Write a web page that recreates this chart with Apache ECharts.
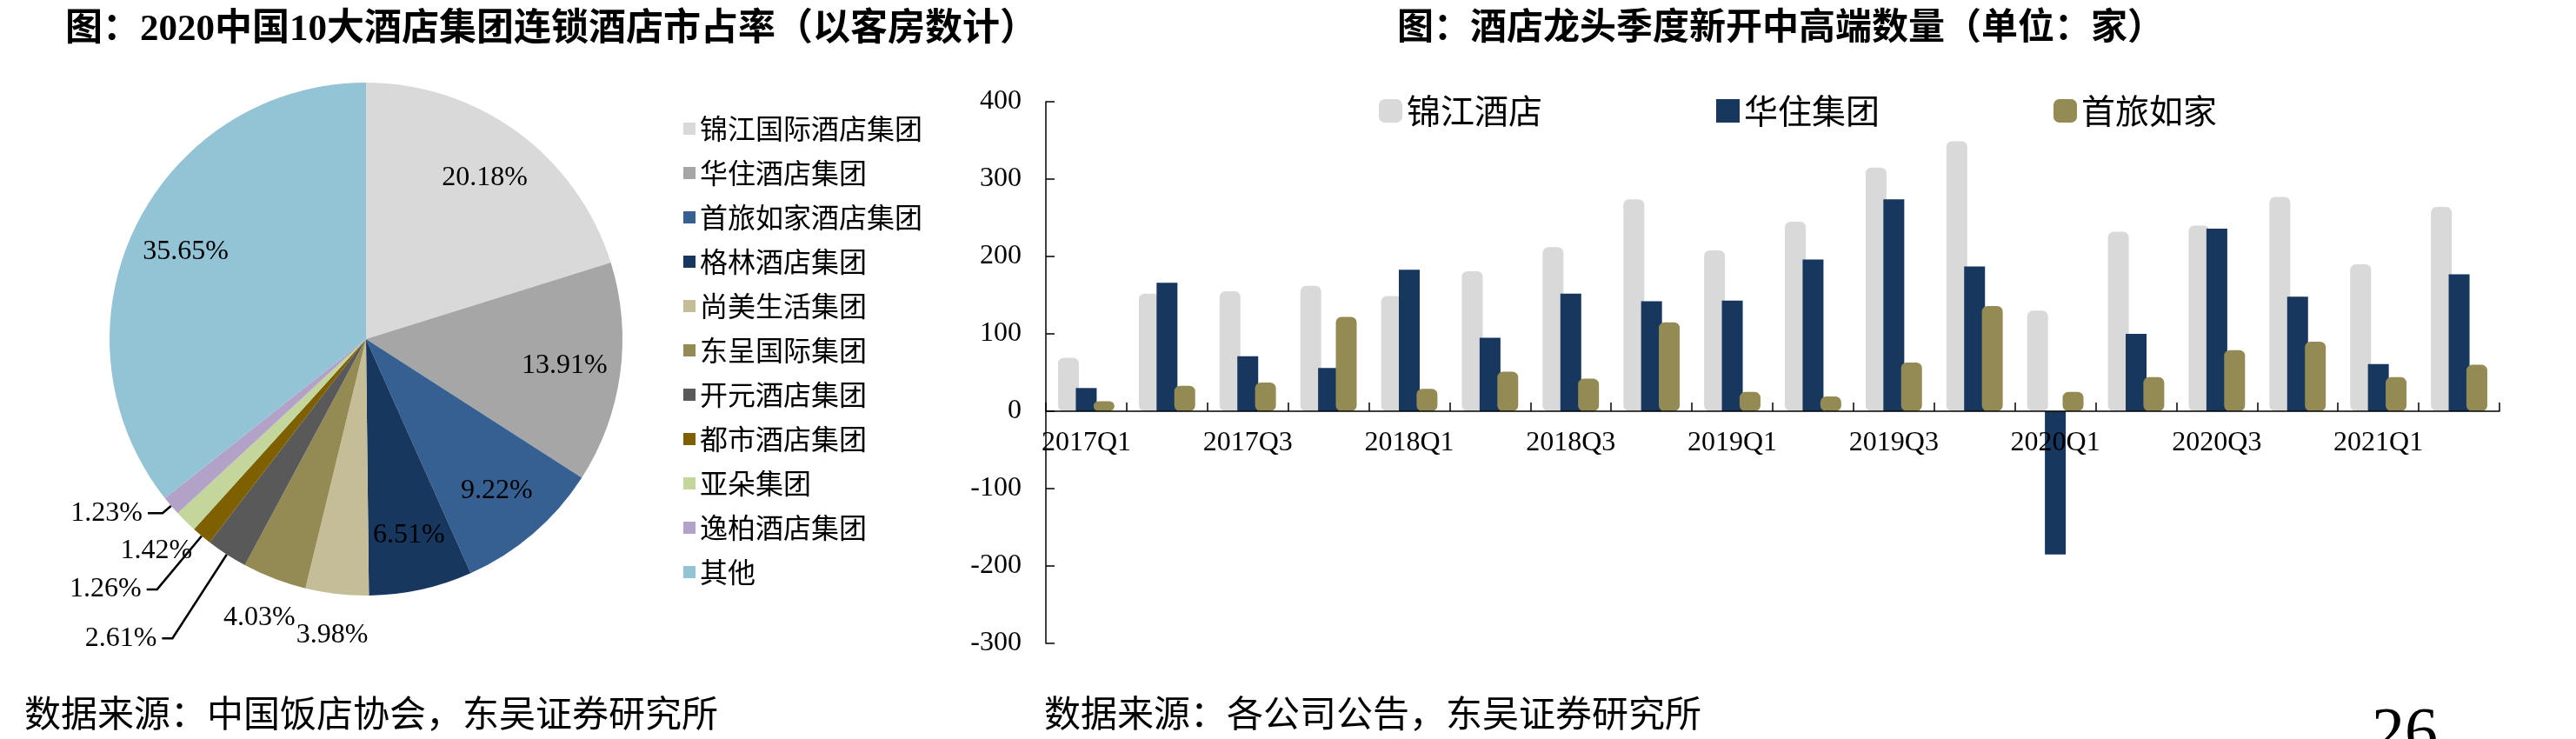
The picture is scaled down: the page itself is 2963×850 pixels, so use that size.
<!DOCTYPE html>
<html>
<head>
<meta charset="utf-8">
<title>酒店集团市占率与新开中高端数量</title>
<script src="https://cdn.jsdelivr.net/npm/echarts@6/dist/echarts.min.js"></script>
<style>
  html, body { margin: 0; padding: 0; background: #fff; }
  #chart { width: 2963px; height: 850px; }
</style>
</head>
<body>
<div id="chart"></div>
<script>
// 饼图：2020中国10大酒店集团连锁酒店市占率（%）
const groupNames = ['锦江国际酒店集团', '华住酒店集团', '首旅如家酒店集团', '格林酒店集团', '尚美生活集团',
  '东呈国际集团', '开元酒店集团', '都市酒店集团', '亚朵集团', '逸柏酒店集团', '其他'];
const groupShares = [20.18, 13.91, 9.22, 6.51, 3.98, 4.03, 2.61, 1.26, 1.42, 1.23, 35.65];
const groupColors = ['#d9d9d9', '#a6a6a6', '#376092', '#17375e', '#c4bd97',
  '#948a54', '#595959', '#7f6000', '#c3d69b', '#b3a2c7', '#93c4d6'];

// 柱状图：酒店龙头季度新开中高端数量（家）
const quarters = ['2017Q1', '2017Q2', '2017Q3', '2017Q4', '2018Q1', '2018Q2', '2018Q3', '2018Q4', '2019Q1',
  '2019Q2', '2019Q3', '2019Q4', '2020Q1', '2020Q2', '2020Q3', '2020Q4', '2021Q1', '2021Q2'];
const jinjiang = [69, 152, 155, 162, 149, 181, 212, 274, 208, 245, 315, 349, 130, 232, 240, 277, 190, 264];
const huazhu = [30, 166, 71, 56, 183, 95, 152, 142, 143, 196, 274, 187, -185, 100, 236, 148, 61, 177];
const shoulv = [13, 33, 37, 122, 29, 51, 42, 115, 25, 19, 63, 136, 25, 44, 79, 90, 44, 60];
const yMin = -300, yMax = 400, yStep = 100;

const serif = "'Liberation Serif', 'Noto Sans CJK SC'";
const cjk = "'Noto Sans CJK SC'";

// 标签放在哪里
const innerLabel = ['锦江国际酒店集团', '华住酒店集团', '首旅如家酒店集团', '格林酒店集团', '其他'];
const ringLabel = ['尚美生活集团', '东呈国际集团', '亚朵集团'];
const lineLabel = { '开元酒店集团': [115, 12], '都市酒店集团': [80, 12], '逸柏酒店集团': [13, 17] };

const pct = p => p.value.toFixed(2) + '%';
const pieCenter = [421, 390];

const mainPie = groupNames.map((n, i) => {
  const ln = lineLabel[n];
  return {
    name: n,
    value: groupShares[i],
    itemStyle: { color: groupColors[i] },
    label: { show: !!ln },
    labelLine: ln ? { show: true, length: ln[0], length2: ln[1] } : { show: false }
  };
});
const overlayData = (names) => groupNames.map((n, i) => ({
  name: n,
  value: groupShares[i],
  label: { show: names.indexOf(n) >= 0 }
}));

const labelText = { fontSize: 32, fontFamily: serif, color: '#000' };

// 柱图区域
const gridTop = 117, gridBottom = 110, chartH = 850;
const gridH = chartH - gridTop - gridBottom;
// x 轴画在 0 值处（标签也跟着）
const zeroOffset = -gridH * (0 - yMin) / (yMax - yMin);

const chart = echarts.init(document.getElementById('chart'), null, { renderer: 'canvas' });

chart.setOption({
  animation: false,
  backgroundColor: '#fff',
  title: [
    {
      text: '图：2020中国10大酒店集团连锁酒店市占率（以客房数计）',
      left: 70, top: 8,
      textStyle: { fontSize: 43, fontWeight: 'bold', fontFamily: serif, color: '#000' }
    },
    {
      text: '图：酒店龙头季度新开中高端数量（单位：家）',
      left: 1602, top: 8,
      textStyle: { fontSize: 42, fontWeight: 'bold', fontFamily: serif, color: '#000' }
    },
    {
      text: '数据来源：中国饭店协会，东吴证券研究所',
      left: 23, top: 794,
      textStyle: { fontSize: 42, fontWeight: 'normal', fontFamily: cjk, color: '#000' }
    },
    {
      text: '数据来源：各公司公告，东吴证券研究所',
      left: 1196, top: 794,
      textStyle: { fontSize: 42, fontWeight: 'normal', fontFamily: cjk, color: '#000' }
    },
    {
      text: '26',
      left: 2723, top: 803,
      textStyle: { fontSize: 76, fontWeight: 'normal', fontFamily: 'Liberation Serif', color: '#000' }
    }
  ],
  legend: [
    {
      data: groupNames,
      orient: 'vertical',
      left: 781, top: 127,
      icon: 'rect',
      itemWidth: 14, itemHeight: 14, itemGap: 19,
      selectedMode: false,
      textStyle: { fontSize: 32, fontFamily: cjk, color: '#000' }
    },
    {
      data: [
        { name: '锦江酒店', icon: 'roundRect' },
        { name: '华住集团', icon: 'rect' },
        { name: '首旅如家', icon: 'roundRect' }
      ],
      left: 1581, top: 103,
      itemWidth: 27, itemHeight: 27, itemGap: 200,
      selectedMode: false,
      itemStyle: { borderWidth: 0 },
      textStyle: { fontSize: 39, fontFamily: cjk, color: '#000' }
    }
  ],
  grid: {
    left: 1203, right: 88, top: gridTop, bottom: gridBottom,
    containLabel: false, outerBoundsMode: 'none'
  },
  xAxis: {
    type: 'category',
    data: quarters,
    z: 3,
    position: 'bottom',
    offset: zeroOffset,
    axisLine: { onZero: false, lineStyle: { color: '#000', width: 1.5 } },
    axisTick: { show: true, inside: true, length: 10, interval: 0, lineStyle: { color: '#000', width: 1.5 } },
    axisLabel: { interval: 1, margin: 21, fontSize: 32, fontFamily: 'Liberation Serif', color: '#000' },
    splitLine: { show: false }
  },
  yAxis: {
    type: 'value',
    min: yMin, max: yMax, interval: yStep,
    axisLine: { show: true, lineStyle: { color: '#000', width: 1.5 } },
    axisTick: { show: true, inside: true, length: 10, lineStyle: { color: '#000', width: 1.5 } },
    axisLabel: { margin: 28, fontSize: 32, fontFamily: 'Liberation Serif', color: '#000' },
    splitLine: { show: false }
  },
  series: [
    {
      name: '市占率',
      type: 'pie',
      center: pieCenter,
      radius: [0, 295],
      startAngle: 90,
      clockwise: true,
      silent: true,
      data: mainPie,
      label: Object.assign({ position: 'outside', formatter: pct, distanceToLabelLine: 6 }, labelText),
      labelLine: { lineStyle: { color: '#000', width: 2.5 }, smooth: false }
    },
    {
      name: '内标签',
      type: 'pie',
      center: pieCenter,
      radius: [160, 295],
      startAngle: 90,
      silent: true,
      itemStyle: { color: 'rgba(0,0,0,0)' },
      emphasis: { disabled: true },
      labelLayout: { hideOverlap: false },
      data: overlayData(innerLabel),
      label: Object.assign({ position: 'inside', formatter: pct }, labelText),
      labelLine: { show: false }
    },
    {
      name: '外标签',
      type: 'pie',
      center: pieCenter,
      radius: [300, 380],
      startAngle: 90,
      silent: true,
      itemStyle: { color: 'rgba(0,0,0,0)' },
      emphasis: { disabled: true },
      labelLayout: { hideOverlap: false },
      data: overlayData(ringLabel),
      label: Object.assign({ position: 'inside', formatter: pct }, labelText),
      labelLine: { show: false }
    },
    {
      name: '锦江酒店',
      type: 'bar',
      data: jinjiang,
      barWidth: 24,
      barGap: '-15%',
      itemStyle: { color: '#d9d9d9', borderColor: '#d9d9d9', borderWidth: 5, borderRadius: 4 }
    },
    {
      name: '华住集团',
      type: 'bar',
      data: huazhu,
      barWidth: 24,
      barGap: '-15%',
      itemStyle: { color: '#17375e' }
    },
    {
      name: '首旅如家',
      type: 'bar',
      data: shoulv,
      barWidth: 24,
      barGap: '-15%',
      itemStyle: { color: '#948a54', borderColor: '#948a54', borderWidth: 5, borderRadius: 4 }
    }
  ]
});
</script>
</body>
</html>
